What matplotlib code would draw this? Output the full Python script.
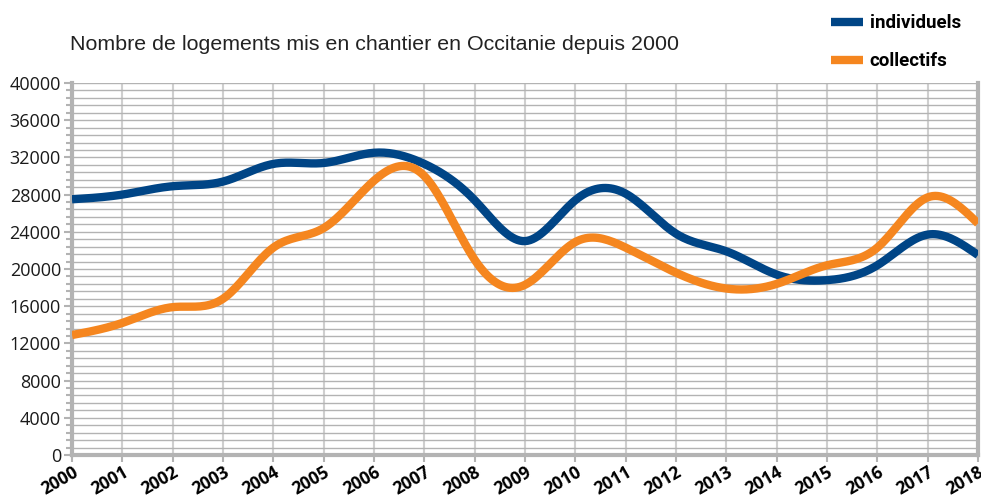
import numpy as np
import matplotlib.pyplot as plt
from matplotlib.ticker import MultipleLocator

# valeurs
annees = list(range(2000, 2019))
individuels = [27500, 28000, 28900, 29400, 31300, 31400, 32500, 31300, 27400, 23000,
               27400, 28100, 23800, 21900, 19400, 18800, 20400, 23700, 21500]
collectifs = [12900, 14200, 15900, 16800, 22300, 24400, 29500, 30000, 21000, 18300,
              22900, 22300, 19600, 17900, 18400, 20400, 22300, 27700, 24900]

couleur_ind = '#004586'
couleur_col = '#f5861f'


def spline(x, y, n=20):
    # spline cubique naturelle pour le lissage des courbes
    x = np.asarray(x, float)
    y = np.asarray(y, float)
    k = len(x)
    h = np.diff(x)
    A = np.zeros((k, k))
    b = np.zeros(k)
    A[0, 0] = A[-1, -1] = 1
    for i in range(1, k - 1):
        A[i, i - 1] = h[i - 1]
        A[i, i] = 2 * (h[i - 1] + h[i])
        A[i, i + 1] = h[i]
        b[i] = 6 * ((y[i + 1] - y[i]) / h[i] - (y[i] - y[i - 1]) / h[i - 1])
    M = np.linalg.solve(A, b)
    xs, ys = [], []
    for i in range(k - 1):
        t = np.linspace(x[i], x[i + 1], n, endpoint=False)
        a = x[i + 1] - t
        c = t - x[i]
        s = (M[i] * a ** 3 + M[i + 1] * c ** 3) / (6 * h[i]) \
            + (y[i] / h[i] - M[i] * h[i] / 6) * a + (y[i + 1] / h[i] - M[i + 1] * h[i] / 6) * c
        xs.extend(t)
        ys.extend(s)
    xs.append(x[-1])
    ys.append(y[-1])
    return np.array(xs), np.array(ys)


fig = plt.figure(figsize=(9.81, 4.98), dpi=100)
ax = fig.add_axes([72 / 981, 43 / 498, 906 / 981, 372 / 498])

xi, yi = spline(annees, individuels)
xc, yc = spline(annees, collectifs)
l1, = ax.plot(xi, yi, color=couleur_ind, lw=6, solid_capstyle='butt', label='individuels', zorder=3)
l2, = ax.plot(xc, yc, color=couleur_col, lw=6, solid_capstyle='butt', label='collectifs', zorder=4)

ax.set_xlim(2000, 2018)
ax.set_ylim(0, 40000)
ax.set_xticks(annees)
ax.set_xticklabels([str(a) for a in annees], rotation=30, ha='right', rotation_mode='anchor',
                   fontsize=12.5, fontweight='bold', family='Open Sans')
ax.yaxis.set_major_locator(MultipleLocator(4000))
ax.yaxis.set_minor_locator(MultipleLocator(800))
for lab in ax.get_yticklabels():
    lab.set_family('Open Sans')
    lab.set_fontsize(13)
    lab.set_color('#1a1a1a')

ax.grid(True, which='major', axis='x', color='#cfcfcf', lw=1.5)
ax.grid(True, which='both', axis='y', color='#b3b3b3', lw=1)
ax.tick_params(axis='y', which='major', length=6, width=1.5, color='#b3b3b3', pad=2)
ax.tick_params(axis='y', which='minor', length=4, width=1.5, color='#b3b3b3')
ax.tick_params(axis='x', length=5, width=1.5, color='#b3b3b3', pad=1)
ax.set_axisbelow(True)
for side in ['left', 'bottom', 'right']:
    ax.spines[side].set_color('#b3b3b3')
    ax.spines[side].set_linewidth(3)
ax.spines['top'].set_visible(False)

fig.text(70 / 981, 1 - 45 / 498, 'Nombre de logements mis en chantier en Occitanie depuis 2000',
         fontsize=15.4, family='Liberation Sans', va='center', color='#222222')

fig.legend(handles=[l1, l2], loc='upper right', bbox_to_anchor=(978 / 981, 1.005), frameon=False,
           prop={'family': 'Roboto', 'weight': 'bold', 'size': 13.5},
           handlelength=1.75, handletextpad=0.35, labelspacing=1.05)

fig.savefig('out.png', dpi=100)
